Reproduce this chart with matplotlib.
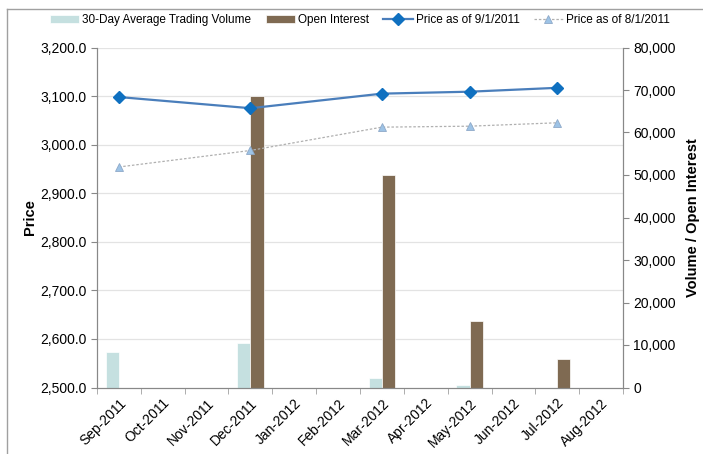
import numpy as np
import matplotlib.pyplot as plt
from matplotlib.ticker import FuncFormatter, FixedLocator

plt.rcParams['font.family'] = ['Liberation Sans', 'DejaVu Sans']

months = ["Sep-2011", "Oct-2011", "Nov-2011", "Dec-2011", "Jan-2012", "Feb-2012",
          "Mar-2012", "Apr-2012", "May-2012", "Jun-2012", "Jul-2012", "Aug-2012"]
volume = [8300, 0, 0, 10500, 0, 0, 2300, 0, 500, 0, 0, 0]
open_interest = [0, 0, 0, 68600, 0, 0, 50000, 0, 15700, 0, 6800, 0]
price_0901 = [3098, np.nan, np.nan, 3075, np.nan, np.nan, 3105, np.nan, 3109, np.nan, 3117, np.nan]
price_0801 = [2954, np.nan, np.nan, 2988, np.nan, np.nan, 3036, np.nan, 3038, np.nan, 3045, np.nan]

x = np.arange(len(months))
W, H = 703, 454
fig = plt.figure(figsize=(W / 100, H / 100), dpi=100)

# outer frame (only left and top edges visible)
fig.add_artist(plt.Line2D([7 / W, 7 / W], [0, 1 - 9 / H], color='#A0A0A0', lw=1))
fig.add_artist(plt.Line2D([7 / W, 1], [1 - 9 / H, 1 - 9 / H], color='#A0A0A0', lw=1))

ax = fig.add_axes([97 / W, 1 - 387.5 / H, (623 - 97) / W, (387.5 - 47.5) / H])
ax2 = ax.twinx()

# bars on the secondary axis
bw = 0.3
ax2.bar(x - bw / 2, volume, bw, color='#C5E0E0', edgecolor='white', linewidth=0.5,
        label='30-Day Average Trading Volume', zorder=2)
ax2.bar(x + bw / 2, open_interest, bw, color='#7F6A52', edgecolor='white', linewidth=0.5,
        label='Open Interest', zorder=2)
ax2.set_ylim(0, 80000)
ax2.yaxis.set_major_locator(FixedLocator(np.arange(0, 80001, 10000)))
ax2.yaxis.set_major_formatter(FuncFormatter(lambda v, p: f"{v:,.0f}"))
ax2.set_ylabel("Volume / Open Interest", fontsize=10.5, fontweight='bold', labelpad=7)

# lines on primary axis, drawn above bars
ax.set_zorder(ax2.get_zorder() + 1)
ax.patch.set_visible(False)
m1 = np.isfinite(price_0901)
m2 = np.isfinite(price_0801)
ax.plot(x[m2], np.array(price_0801)[m2], color='#B0B0B0', linestyle=(0, (2, 1.5)), lw=0.9,
        marker='^', markersize=6, markerfacecolor='#9DC3E6', markeredgecolor='#8EA9C8',
        markeredgewidth=0.6, label='Price as of 8/1/2011', zorder=3)
ax.plot(x[m1], np.array(price_0901)[m1], color='#4A7EBB', lw=1.6,
        marker='D', markersize=6, markerfacecolor='#0F70C0', markeredgecolor='#0F70C0',
        label='Price as of 9/1/2011', zorder=4)
ax.set_ylim(2500, 3200)
ax.set_xlim(-0.5, len(months) - 0.5)
ax.yaxis.set_major_locator(FixedLocator(np.arange(2500, 3201, 100)))
ax.yaxis.set_major_formatter(FuncFormatter(lambda v, p: f"{v:,.1f}"))
ax.set_ylabel("Price", fontsize=10.5, fontweight='bold', labelpad=2)

# gridlines behind everything
for v in np.arange(2600, 3201, 100):
    ax2.axhline((v - 2500) / 700 * 80000, color='#E3E3E3', lw=0.9, zorder=0)

ax.set_xticks(x)
ax.set_xticklabels(months, rotation=45, ha='right', rotation_mode='anchor', fontsize=10)
ax.set_xticks(np.arange(-0.5, len(months)), minor=True)
ax.tick_params(axis='x', which='major', length=0, pad=6)
ax.tick_params(axis='x', which='minor', length=4, color='#A0A0A0')
ax.tick_params(axis='y', length=4, color='#888888', labelsize=10)
ax2.tick_params(axis='y', length=4, color='#888888', labelsize=10)

for a in (ax, ax2):
    a.spines['top'].set_visible(False)
    for s in ('left', 'right', 'bottom'):
        a.spines[s].set_color('#888888')

h1, l1 = ax2.get_legend_handles_labels()
h2, l2 = ax.get_legend_handles_labels()
handles = h1 + [h2[1], h2[0]]
labels = l1 + [l2[1], l2[0]]
fig.legend(handles, labels, loc='center', bbox_to_anchor=(360 / W, 1 - 20 / H), ncol=4,
           frameon=False, fontsize=8.5, handlelength=2.5, handletextpad=0.25,
           columnspacing=1.2, handleheight=0.6)

fig.savefig('out.png', dpi=100)
